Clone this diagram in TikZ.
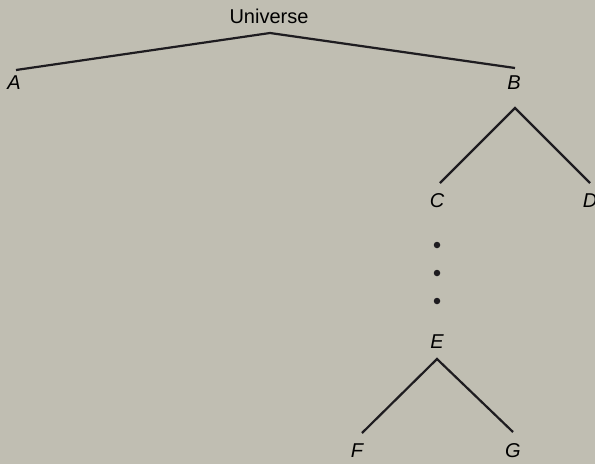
\documentclass[tikz,border=0pt]{standalone}
\usepackage{fontspec}
\setmainfont{Liberation Sans}
\begin{document}
\begin{tikzpicture}[x=1pt,y=-1pt,
  lbl/.style={font=\fontsize{20}{24}\selectfont\itshape, inner sep=0pt},
  edge/.style={line width=2.2pt, draw={rgb,255:red,30;green,28;blue,32}},
  dotn/.style={circle, fill={rgb,255:red,30;green,28;blue,32}, inner sep=0pt, minimum size=6.5pt}]
\definecolor{bg}{RGB}{192,190,178}
\fill[bg] (0,0) rectangle (595,464);
\useasboundingbox (0,0) rectangle (595,464);
\node[font=\fontsize{20}{24}\selectfont, inner sep=0pt] (u) at (269,16) {Universe};
\coordinate (ua) at (270,33);
\coordinate (ae) at (16,70);
\coordinate (be) at (515,68);
\node[lbl] (A) at (14,83) {A};
\node[lbl] (B) at (514,83) {B};
\coordinate (bt) at (515,108);
\coordinate (ce) at (440,183);
\coordinate (de) at (590,183);
\node[lbl] (C) at (437,201) {C};
\node[lbl] (D) at (590,201) {D};
\node[dotn] (d1) at (437,245) {};
\node[dotn] (d2) at (437,273) {};
\node[dotn] (d3) at (437,301) {};
\node[lbl] (E) at (437,342) {E};
\coordinate (et) at (437,359);
\coordinate (fe) at (362,433);
\coordinate (ge) at (513,432);
\node[lbl] (F) at (357,451) {F};
\node[lbl] (G) at (513,451) {G};
\draw[edge] (ae) -- (ua) -- (be);
\draw[edge] (ce) -- (bt) -- (de);
\draw[edge] (fe) -- (et) -- (ge);
\end{tikzpicture}
\end{document}
